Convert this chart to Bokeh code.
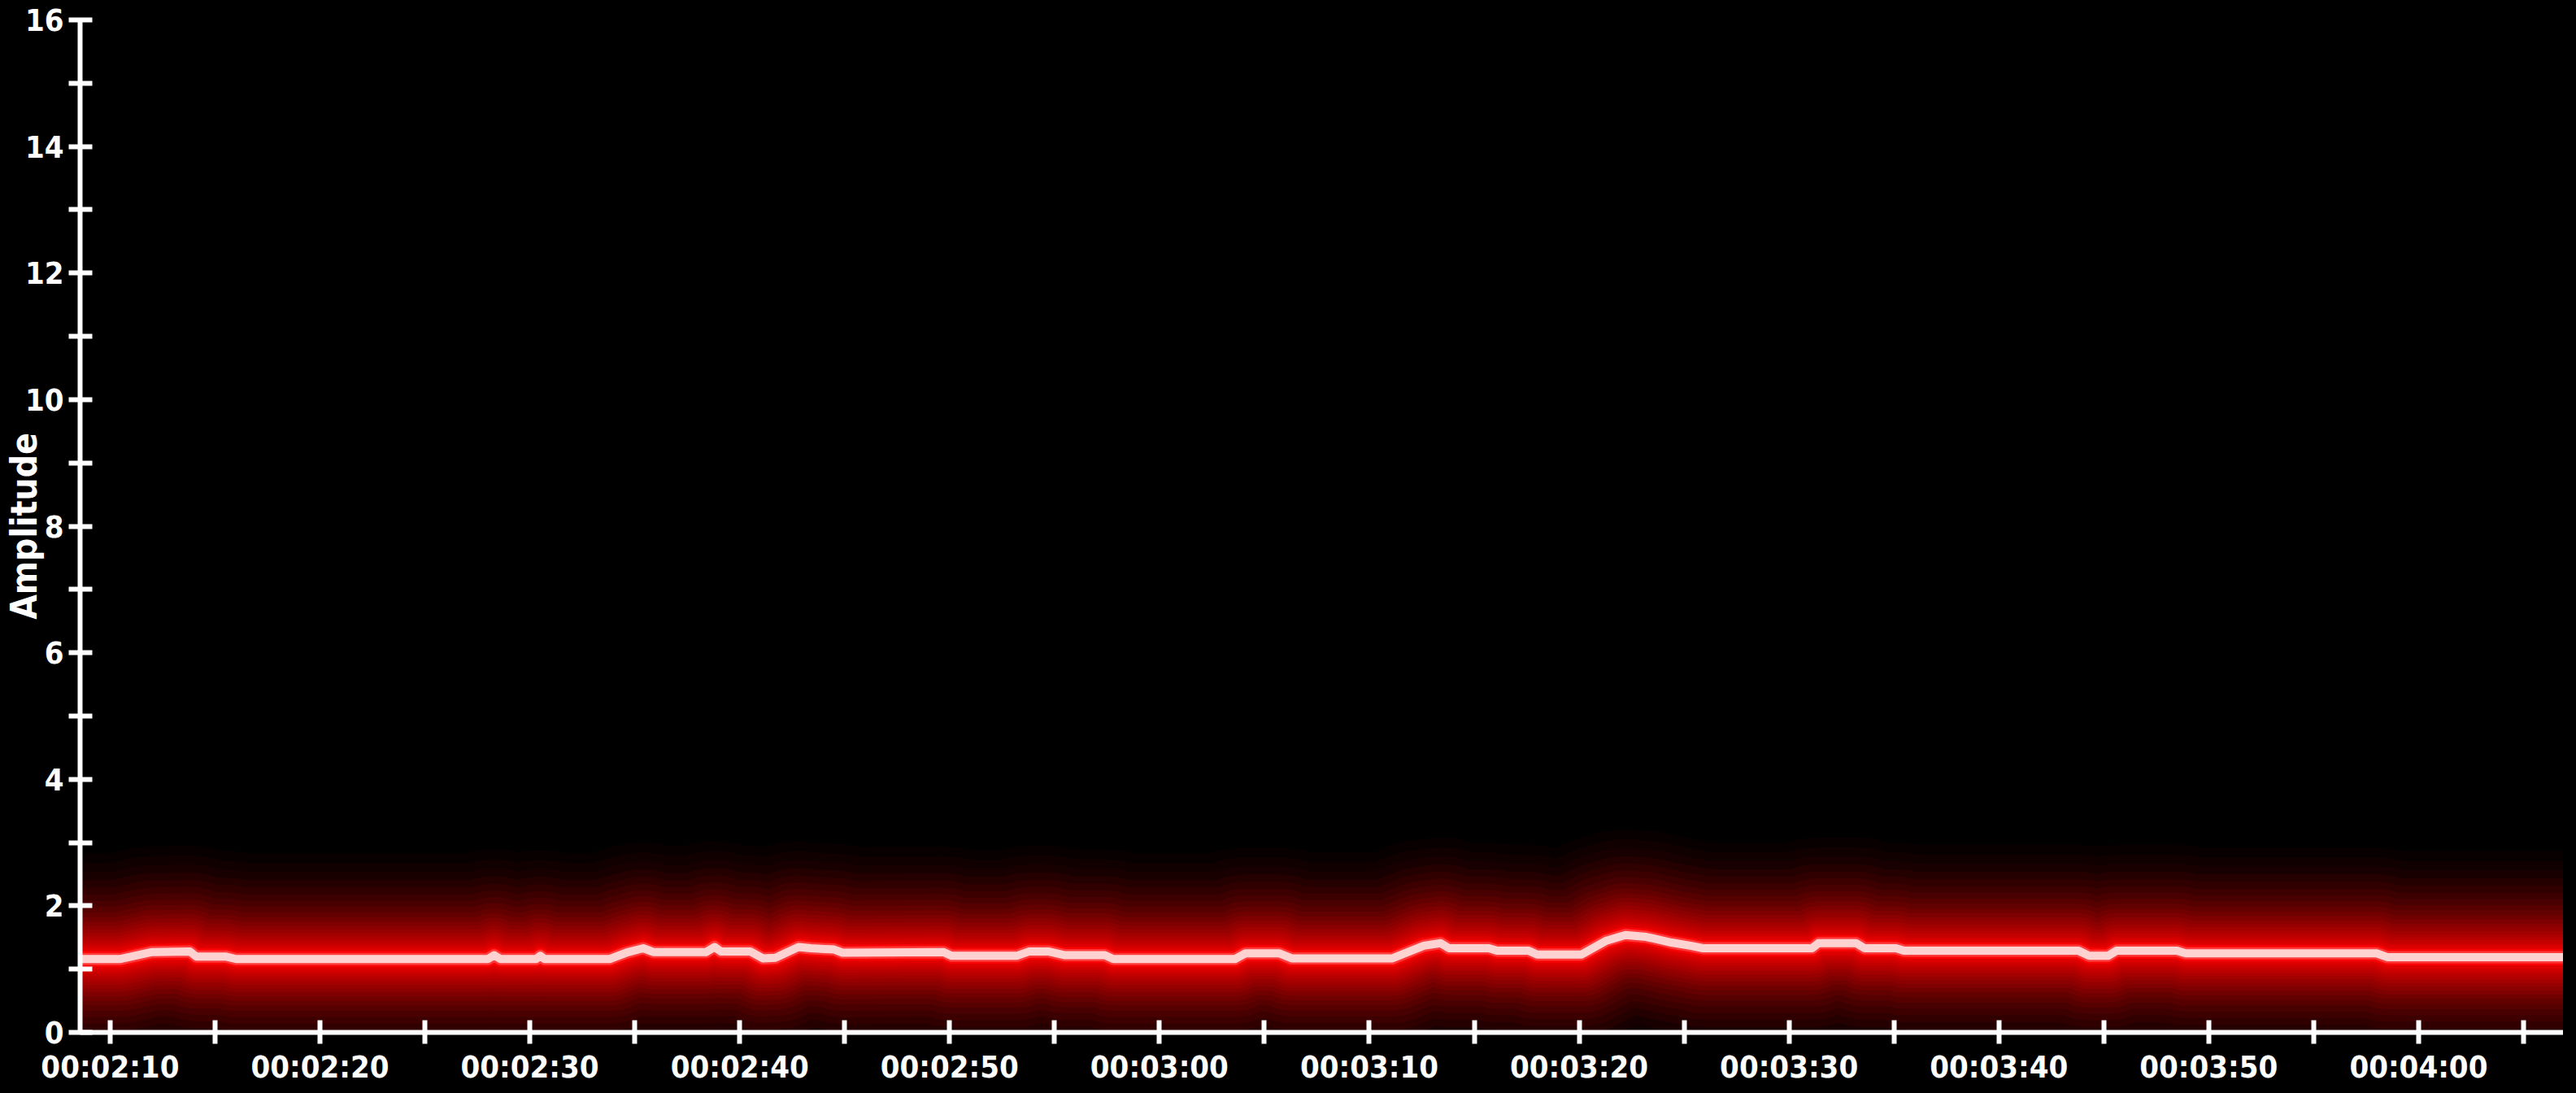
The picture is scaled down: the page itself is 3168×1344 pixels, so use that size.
import math
from bokeh.plotting import figure
from bokeh.models import FixedTicker, Range1d
from bokeh.embed import file_html
from bokeh.resources import INLINE

# ---- data (seconds from start of clip, amplitude) ----
time_s = [128.6, 130.5, 132.0, 133.8, 134.1, 135.5, 136.0, 148.0, 148.3, 148.6,
          150.3, 150.5, 150.7, 153.8, 154.6, 155.4, 155.9, 158.4, 158.8, 159.1,
          160.5, 161.1, 161.7, 162.8, 163.4, 164.5, 164.9, 169.7, 170.1, 173.2,
          173.8, 174.7, 175.5, 177.4, 177.8, 183.6, 184.1, 185.7, 186.3, 191.1,
          192.6, 193.4, 193.8, 195.7, 196.1, 197.6, 198.0, 200.1, 201.3, 202.2,
          203.2, 204.4, 205.3, 205.9, 211.1, 211.4, 213.2, 213.6, 215.1, 215.5,
          223.8, 224.3, 225.2, 225.6, 228.5, 228.9, 238.0, 238.5, 247.3]
amplitude = [1.16, 1.16, 1.27, 1.28, 1.20, 1.20, 1.16, 1.16, 1.22, 1.16,
             1.16, 1.21, 1.16, 1.16, 1.26, 1.33, 1.27, 1.27, 1.35, 1.28,
             1.28, 1.17, 1.18, 1.35, 1.33, 1.31, 1.26, 1.27, 1.21, 1.21,
             1.28, 1.28, 1.22, 1.22, 1.16, 1.16, 1.25, 1.25, 1.17, 1.17,
             1.37, 1.41, 1.33, 1.33, 1.29, 1.29, 1.23, 1.23, 1.45, 1.54,
             1.51, 1.42, 1.37, 1.33, 1.33, 1.41, 1.41, 1.33, 1.33, 1.29,
             1.29, 1.21, 1.21, 1.29, 1.29, 1.25, 1.25, 1.19, 1.19]

x_tick_values = [130, 140, 150, 160, 170, 180, 190, 200, 210, 220, 230, 240]
x_tick_labels = ["00:02:10", "00:02:20", "00:02:30", "00:02:40", "00:02:50", "00:03:00",
                 "00:03:10", "00:03:20", "00:03:30", "00:03:40", "00:03:50", "00:04:00"]
x_minor_values = [135, 145, 155, 165, 175, 185, 195, 205, 215, 225, 235, 245]
y_tick_values = [0, 2, 4, 6, 8, 10, 12, 14, 16]
y_minor_values = [1, 3, 5, 7, 9, 11, 13, 15]

FONT = "'DejaVu Sans Condensed', 'Liberation Sans Narrow', Roboto, sans-serif"
BG = "#000000"

p = figure(width=3152, height=1336, output_backend="svg", toolbar_location=None,
           x_range=Range1d(128.57, 246.9), y_range=Range1d(0, 16),
           min_border_left=92, min_border_top=24, min_border_right=0, min_border_bottom=0,
           background_fill_color=BG, border_fill_color=BG, outline_line_color=None)
p.grid.visible = False

# neon glow: many translucent layers, widest (faintest) first
glow_widths = [260, 236, 214, 194, 176, 159, 143, 128, 115, 103, 92, 82, 73, 64, 56, 49, 42, 36, 31, 26]
glow_alphas = [0.03, 0.035, 0.04, 0.05, 0.055, 0.06, 0.07, 0.075, 0.08, 0.09, 0.095,
               0.1, 0.11, 0.12, 0.13, 0.14, 0.15, 0.17, 0.2, 0.25]
for w, a in zip(glow_widths, glow_alphas):
    p.line(time_s, amplitude, line_width=w, line_alpha=a, line_color="#ff0000",
           line_join="round", line_cap="round")
p.line(time_s, amplitude, line_width=20, line_alpha=0.8, line_color="#ff0505",
       line_join="round", line_cap="round")
p.line(time_s, amplitude, line_width=15, line_alpha=0.9, line_color="#ff4040",
       line_join="round", line_cap="round")
p.line(time_s, amplitude, line_width=10, line_color="#ffd2d2",
       line_join="round", line_cap="round")

for ax in (p.xaxis[0], p.yaxis[0]):
    ax.axis_line_color = "white"
    ax.axis_line_width = 6
    ax.major_tick_line_color = "white"
    ax.major_tick_line_width = 6
    ax.minor_tick_line_color = "white"
    ax.minor_tick_line_width = 6
    ax.major_tick_in = 15
    ax.major_tick_out = 14
    ax.minor_tick_in = 15
    ax.minor_tick_out = 14
    ax.major_label_text_color = "white"
    ax.major_label_text_font = FONT
    ax.major_label_text_font_style = "bold"
    ax.major_label_text_font_size = "38px"

xa = p.xaxis[0]
xa.ticker = FixedTicker(ticks=x_tick_values, minor_ticks=x_minor_values)
xa.major_label_overrides = dict(zip(x_tick_values, x_tick_labels))
xa.major_label_standoff = 6

ya = p.yaxis[0]
ya.ticker = FixedTicker(ticks=y_tick_values, minor_ticks=y_minor_values)
ya.major_label_standoff = 6
ya.axis_label = "Amplitude"
ya.axis_label_text_color = "white"
ya.axis_label_text_font = FONT
ya.axis_label_text_font_style = "bold"
ya.axis_label_text_font_size = "44px"
ya.axis_label_standoff = -27

html = file_html(p, INLINE)
html = html.replace("</head>", "<style>html,body{background:#000000;}</style></head>", 1)
open("out.html", "w").write(html)
